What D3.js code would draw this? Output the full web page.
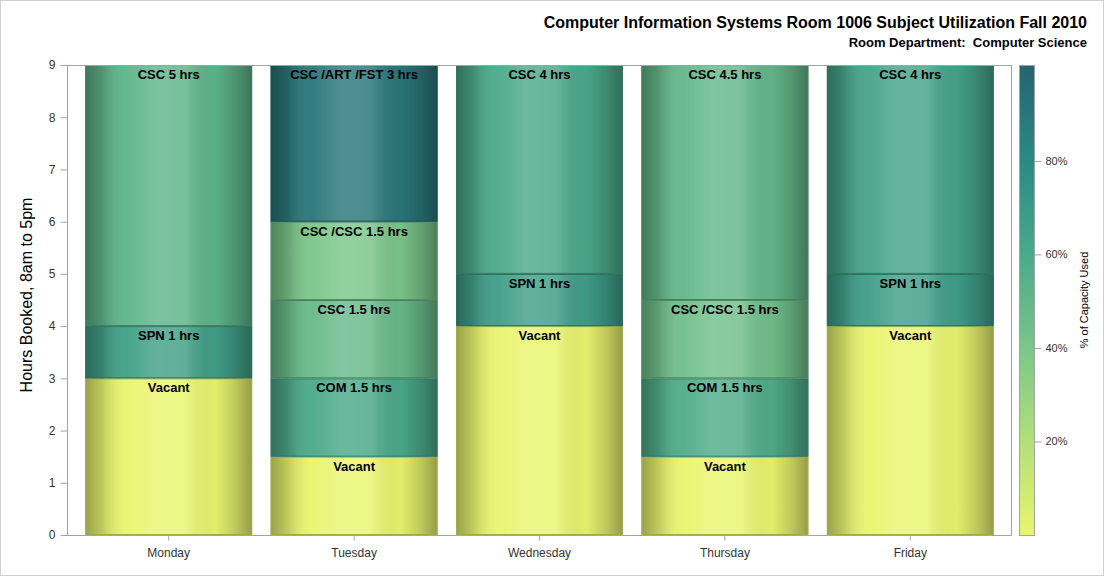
<!DOCTYPE html>
<html><head><meta charset="utf-8">
<script src="https://cdn.jsdelivr.net/npm/d3@7"></script>
<style>
html,body{margin:0;padding:0;background:#fff;}
svg{display:block;font-family:"Liberation Sans",Arial,sans-serif;}
</style></head>
<body>
<svg id="chart" width="1104" height="576"></svg>
<script>
// ---- data ----
const days = ["Monday","Tuesday","Wednesday","Thursday","Friday"];
const segDay   = ["Monday","Monday","Monday",
                  "Tuesday","Tuesday","Tuesday","Tuesday","Tuesday",
                  "Wednesday","Wednesday","Wednesday",
                  "Thursday","Thursday","Thursday","Thursday",
                  "Friday","Friday","Friday"];
const segLabel = ["Vacant","SPN 1 hrs","CSC 5 hrs",
                  "Vacant","COM 1.5 hrs","CSC 1.5 hrs","CSC /CSC 1.5 hrs","CSC /ART /FST 3 hrs",
                  "Vacant","SPN 1 hrs","CSC 4 hrs",
                  "Vacant","COM 1.5 hrs","CSC /CSC 1.5 hrs","CSC 4.5 hrs",
                  "Vacant","SPN 1 hrs","CSC 4 hrs"];
const segHours = [3,1,5, 1.5,1.5,1.5,1.5,3, 4,1,4, 1.5,1.5,1.5,4.5, 4,1,4];
const segPct   = [0,66,52, 0,60,48,40,90, 0,67,60, 0,58,44,50, 0,67,63];
const yTicks = [0,1,2,3,4,5,6,7,8,9];
const legendTicks = [20,40,60,80];
const titleText = "Computer Information Systems Room 1006 Subject Utilization Fall 2010";
const subtitleText = "Room Department:  Computer Science";
const yTitle = "Hours Booked, 8am to 5pm";
const legendTitle = "% of Capacity Used";

// ---- layout ----
const svg = d3.select("#chart");
const L = 67, R = 1012, T = 65, B = 535;
const rampStops = ["#e9f56e","#b2df7a","#7bc68a","#4ba98a","#2b8a84","#266470"];
const color = d3.scaleLinear().domain(d3.range(rampStops.length).map(i => i*100/(rampStops.length-1)))
  .range(rampStops).interpolate(d3.interpolateRgb).clamp(true);

const x = d3.scaleBand().domain(days).range([L+9, R-9]).paddingInner(0.1).paddingOuter(0.05);
const y = d3.scaleLinear().domain([0,9]).range([B,T]);
const ly = d3.scaleLinear().domain([0,100.5]).range([B,T]);

// outer border
svg.append("rect").attr("x",0.5).attr("y",0.5).attr("width",1103).attr("height",575)
  .attr("fill","#fff").attr("stroke","#d0d0d0");

const defs = svg.append("defs");
const shade = defs.append("linearGradient").attr("id","shade").attr("x1","0").attr("x2","1").attr("y1","0").attr("y2","0");
[[0,"#000",0.34],[0.1,"#000",0.18],[0.25,"#fff",0.04],[0.42,"#fff",0.18],[0.6,"#fff",0.16],[0.78,"#000",0.03],[0.9,"#000",0.18],[1,"#000",0.36]]
  .forEach(s => shade.append("stop").attr("offset",s[0]).attr("stop-color",s[1]).attr("stop-opacity",s[2]));

const lg = defs.append("linearGradient").attr("id","legendGrad").attr("x1","0").attr("x2","0").attr("y1","1").attr("y2","0");
d3.range(0,21).forEach(i => lg.append("stop").attr("offset",i/20).attr("stop-color",color(i/20*100.5)));

// stacking
const segs = [];
const acc = {};
days.forEach(d => acc[d]=0);
segDay.forEach((d,i) => {
  const y0 = acc[d], y1 = y0 + segHours[i];
  acc[d] = y1;
  segs.push({day:d, label:segLabel[i], y0, y1, pct:segPct[i]});
});

const g = svg.append("g");
const segG = g.selectAll("g.seg").data(segs).enter().append("g");
segG.append("rect")
  .attr("x", d => x(d.day)).attr("width", x.bandwidth())
  .attr("y", d => y(d.y1)).attr("height", d => y(d.y0)-y(d.y1))
  .attr("fill", d => color(d.pct));
segG.append("rect")
  .attr("x", d => x(d.day)).attr("width", x.bandwidth())
  .attr("y", d => y(d.y1)).attr("height", d => y(d.y0)-y(d.y1))
  .attr("fill", "url(#shade)");
segG.append("rect")
  .attr("x", d => x(d.day)+0.5).attr("width", x.bandwidth()-1)
  .attr("y", d => y(d.y1)+0.5).attr("height", d => y(d.y0)-y(d.y1)-1)
  .attr("fill", "none")
  .attr("stroke", d => d3.color(color(d.pct)).darker(1.0))
  .attr("stroke-width",1);
segG.append("text")
  .attr("x", d => x(d.day)+x.bandwidth()/2)
  .attr("y", d => y(d.y1)+14)
  .attr("text-anchor","middle")
  .attr("font-size","13px").attr("font-weight","bold").attr("fill","#000")
  .text(d => d.label);

// frame
svg.append("rect").attr("x",L+0.5).attr("y",T+0.5).attr("width",R-L-1).attr("height",B-T)
  .attr("fill","none").attr("stroke","#a0a4a8");

// y axis
const yAx = svg.append("g").attr("transform",`translate(${L+0.5},0)`)
  .call(d3.axisLeft(y).tickValues(yTicks).tickSize(7).tickPadding(5).tickFormat(d3.format("d")));
yAx.select(".domain").remove();
yAx.selectAll("line").attr("stroke","#a0a4a8");
yAx.selectAll("text").attr("font-size","12px").attr("fill","#333").attr("font-family","'Liberation Sans',Arial,sans-serif");

// x axis
const xAx = svg.append("g").attr("transform",`translate(0,${B+0.5})`)
  .call(d3.axisBottom(x).tickSize(5).tickPadding(8));
xAx.select(".domain").remove();
xAx.selectAll("line").attr("stroke","#a0a4a8");
xAx.selectAll("text").attr("font-size","12px").attr("fill","#333").attr("font-family","'Liberation Sans',Arial,sans-serif");

// titles
svg.append("text").attr("x",1087).attr("y",28).attr("text-anchor","end")
  .attr("font-size","16px").attr("font-weight","bold").attr("fill","#000").text(titleText);
svg.append("text").attr("x",1087).attr("y",47).attr("text-anchor","end")
  .attr("font-size","13px").attr("font-weight","bold").attr("fill","#000")
  .style("white-space","pre").text(subtitleText);
svg.append("text").attr("transform",`translate(32,${(T+B)/2 - 5}) rotate(-90)`).attr("text-anchor","middle")
  .attr("font-size","16px").attr("fill","#000").text(yTitle);

// legend
const LX = 1019, LW = 15;
svg.append("rect").attr("x",LX+0.5).attr("y",T+0.5).attr("width",LW).attr("height",B-T)
  .attr("fill","url(#legendGrad)").attr("stroke","#a0a4a8");
const lAx = svg.append("g").attr("transform",`translate(${LX+LW+0.5},0)`)
  .call(d3.axisRight(ly).tickValues(legendTicks).tickSize(7).tickPadding(4).tickFormat(d => d+"%"));
lAx.select(".domain").remove();
lAx.selectAll("line").attr("stroke","#a0a4a8");
lAx.selectAll("text").attr("font-size","11px").attr("fill","#333").attr("font-family","'Liberation Sans',Arial,sans-serif");
svg.append("text").attr("transform",`translate(1088,${(T+B)/2}) rotate(-90)`).attr("text-anchor","middle")
  .attr("font-size","11px").attr("fill","#000").text(legendTitle);
</script>
</body></html>
